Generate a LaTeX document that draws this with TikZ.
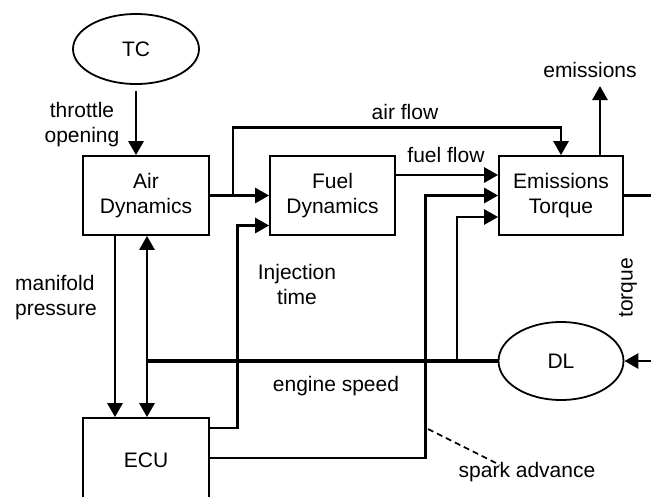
\documentclass[tikz,border=0pt]{standalone}
\usepackage{fontspec}
\setmainfont{Liberation Sans}
\usetikzlibrary{shapes.geometric, arrows.meta, positioning, calc}

\begin{document}
\begin{tikzpicture}[x=1pt, y=-1pt,
        % 1. STYLES
        base/.style={
            draw, align=center, minimum width=126pt, line width=1.8pt,
            font=\fontsize{21}{25}\selectfont
        },
        % blocks of the engine model
        block/.style={base, rectangle, minimum height=79pt},
        % controller and driveline ellipses
        oval/.style={base, ellipse, inner sep=0pt},
        % signal labels
        lbl/.style={font=\fontsize{21}{25}\selectfont, align=center, inner sep=0pt},
        % connectors
        wire/.style={line width=2.8pt},
        arrow/.style={wire, -{Triangle[length=14pt, width=15pt]}}
    ]

        % picture frame (the torque loop leaves it on the right)
        \useasboundingbox (0,0) rectangle (651,496);
        \clip (0,0) rectangle (651,496);

        % 2. NODES
        \node[oval, minimum height=70pt] (tc) at (136,49) {TC};
        \node[block] (air) at (146,195.5) {Air\\Dynamics};
        \node[block, minimum width=125pt] (fuel) at (332.5,195.5) {Fuel\\Dynamics};
        \node[block, minimum width=124pt] (emis) at (561,195.5) {Emissions\\Torque};
        \node[block, minimum height=84pt] (ecu) at (146,460) {ECU};
        \node[oval, minimum width=125pt, minimum height=78pt] (dl) at (561,361) {DL};

        % labels
        \node[lbl] (thr) at (82,125) {throttle\\opening};
        \node[lbl] (airl) at (405,112) {air flow};
        \node[lbl] (fuell) at (446,155) {fuel flow};
        \node[lbl] (emil) at (590,70) {emissions};
        \node[lbl, align=left] (manl) at (56,298) {manifold\\pressure};
        \node[lbl] (injl) at (297,284) {Injection\\time};
        \node[lbl] (engl) at (336,386) {engine speed};
        \node[lbl] (spl) at (527,472) {spark advance};
        \node[lbl, rotate=90] (tql) at (628,288) {torque};

        % junctions
        \coordinate (jair) at (233,195.5);
        \coordinate (jes) at (147,361);
        \coordinate (jspd) at (457,361);
        \coordinate (jspk) at (428,429);
        \coordinate (eout) at (600,86);

        % 3. CONNECTORS
        \draw[arrow] ([yshift=-6pt]tc.south) -- (tc.south |- air.north);
        \draw[arrow] (air.east) -- (fuel.west);
        \draw[arrow] (jair) -- ++(0,-68) -| (emis.north);
        \draw[arrow] ([yshift=20.5pt]fuel.east) -- ([yshift=20.5pt]emis.west);
        \draw[arrow] ([xshift=39pt]emis.north) -- (eout);
        \draw[arrow] ([yshift=32pt]ecu.east) -| ([xshift=-32pt,yshift=-30pt]fuel.west)
            -- ([yshift=-30pt]fuel.west);
        \draw[arrow] ([yshift=2pt]ecu.east) -| ([xshift=-73pt]emis.west) -- (emis.west);
        \draw[arrow] (jspd) |- ([yshift=-21.5pt]emis.west);
        \draw[arrow] ([xshift=-31pt]air.south) -- ([xshift=-31pt]ecu.north);
        \draw[wire, line width=3.4pt] (dl.west) -- (jes);
        \draw[arrow] (jes) -- (jes |- air.south);
        \draw[arrow] (jes) -- (jes |- ecu.north);
        \draw[arrow] (emis.east) -- ++(33,0) |- (dl.east);
        \draw[line width=1.6pt, dash pattern=on 6pt off 4pt]
            (jspk) -- ([xshift=-27pt,yshift=-3pt]spl.north);

    \end{tikzpicture}
\end{document}
